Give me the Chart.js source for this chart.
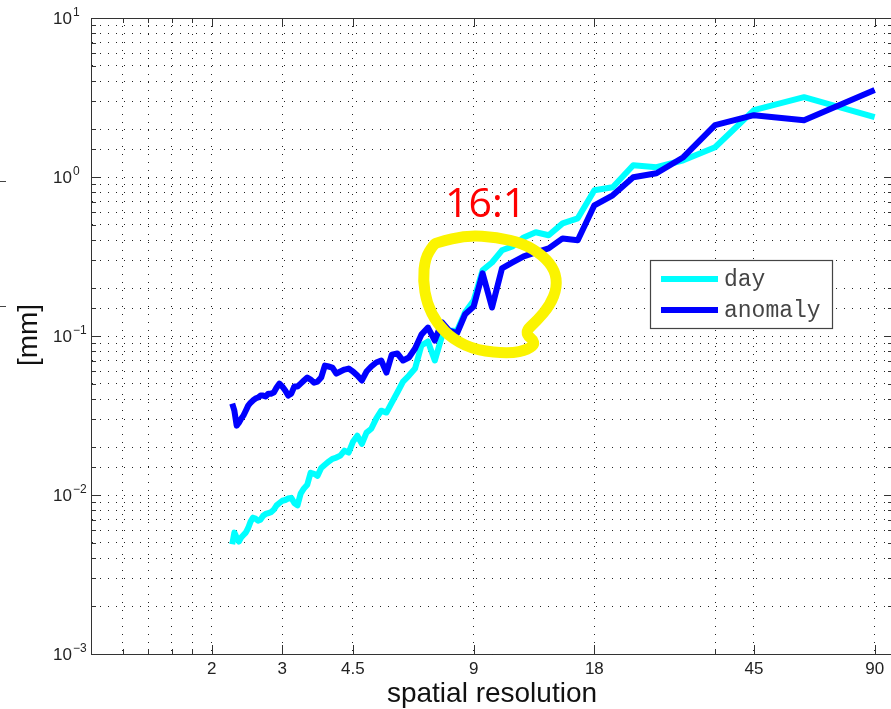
<!DOCTYPE html>
<html>
<head>
<meta charset="utf-8">
<script src="https://cdn.jsdelivr.net/npm/chart.js@4.4.1/dist/chart.umd.min.js"></script>
<style>
html, body { margin: 0; padding: 0; background: #fff; overflow: hidden; }
#divGrafico { width: 891px; height: 709px; overflow: hidden; }
canvas { display: block; }
</style>
</head>
<body>
<div id="divGrafico"><canvas id="grafico" width="895" height="709"></canvas></div>
<script>
// spatial resolution (180/k, k = 80..2)
const resolution = [
    2.25, 2.278, 2.308, 2.338, 2.368, 2.4, 2.432, 2.466, 2.5, 2.535,
    2.571, 2.609, 2.647, 2.687, 2.727, 2.769, 2.813, 2.857, 2.903, 2.951,
    3, 3.051, 3.103, 3.158, 3.214, 3.273, 3.333, 3.396, 3.462, 3.529,
    3.6, 3.673, 3.75, 3.83, 3.913, 4, 4.091, 4.186, 4.286, 4.39,
    4.5, 4.615, 4.737, 4.865, 5, 5.143, 5.294, 5.455, 5.625, 5.806,
    6, 6.207, 6.429, 6.667, 6.923, 7.2, 7.5, 7.826, 8.182, 8.571,
    9, 9.474, 10, 10.588, 11.25, 12, 12.857, 13.846, 15, 16.364,
    18, 20, 22.5, 25.714, 30, 36, 45, 60, 90
];
const day = [
    0.0049, 0.0058, 0.0054, 0.0051, 0.0054, 0.0056, 0.0058, 0.0062, 0.0068, 0.0072,
    0.0071, 0.0069, 0.0070, 0.0074, 0.0076, 0.0077, 0.0078, 0.0081, 0.0086, 0.0089,
    0.0092, 0.0093, 0.0095, 0.0096, 0.0089, 0.0086, 0.0102, 0.0110, 0.0116, 0.0138,
    0.0136, 0.0132, 0.0148, 0.0155, 0.0162, 0.0169, 0.0172, 0.0177, 0.0190, 0.0185,
    0.0216, 0.0236, 0.0210, 0.0247, 0.0261, 0.0302, 0.0339, 0.0330, 0.0381, 0.0441,
    0.0517, 0.0564, 0.0624, 0.0871, 0.0924, 0.0701, 0.0993, 0.108, 0.108, 0.141,
    0.167, 0.259, 0.290, 0.346, 0.366, 0.417, 0.449, 0.430, 0.511, 0.550,
    0.825, 0.862, 1.186, 1.152, 1.275, 1.539, 2.633, 3.179, 2.379
];
const anomaly = [
    0.0376, 0.0339, 0.0273, 0.0285, 0.0302, 0.0316, 0.0339, 0.0365, 0.0381, 0.0393,
    0.0404, 0.0410, 0.0422, 0.0422, 0.0416, 0.0434, 0.0434, 0.0441, 0.0474, 0.0502,
    0.0481, 0.0454, 0.0422, 0.0434, 0.0481, 0.0481, 0.0502, 0.0525, 0.0548, 0.0532,
    0.0509, 0.0517, 0.0548, 0.0652, 0.0643, 0.0633, 0.0580, 0.0598, 0.0615, 0.0624,
    0.0598, 0.0564, 0.0525, 0.0598, 0.0643, 0.0681, 0.0701, 0.0589, 0.0764, 0.0776,
    0.0701, 0.0732, 0.0834, 0.102, 0.113, 0.0937, 0.122, 0.108, 0.104, 0.137,
    0.153, 0.248, 0.151, 0.266, 0.290, 0.317, 0.336, 0.356, 0.411, 0.400,
    0.664, 0.767, 0.996, 1.056, 1.332, 2.118, 2.449, 2.278, 3.520
];
const seriesNames = ['day', 'anomaly'];
const seriesColors = ['#00ffff', '#0000ff'];

const xTickLabels = [2, 3, 4.5, 9, 18, 45, 90];
const xGridValues = [1.2, 1.39, 1.59, 1.79, 2, 3, 4.5, 9, 18, 36, 45, 90];
const yPowers = [-3, -2, -1, 0, 1];

// hand drawn circle + note, in data coordinates
const circleX = [7.29, 8.66, 10.29, 11.95, 13.40, 14.36, 14.53, 13.95, 12.95, 12.02,
                 12.88, 12.30, 11.09, 9.18, 7.99, 7.29, 6.88, 6.73, 6.81, 7.13];
const circleY = [0.388, 0.430, 0.417, 0.383, 0.321, 0.259, 0.202, 0.156, 0.125, 0.105,
                 0.0910, 0.0822, 0.0776, 0.0810, 0.0951, 0.120, 0.160, 0.224, 0.308, 0.372];
const noteText = '16:1';
const noteX = 7.64;
const noteY = 0.558;

function pontos(ys) {
    return resolution.map(function (x, i) { return { x: x, y: ys[i] }; });
}

function isPow10(v) {
    var l = Math.log10(v);
    return Math.abs(l - Math.round(l)) < 1e-6;
}

const extras = {
    id: 'extras',
    afterDatasetsDraw: function (chart) {
        var ctx = chart.ctx;
        var xs = chart.scales.x, ys = chart.scales.y;
        var a = chart.chartArea;
        ctx.save();

        // box top / right
        ctx.strokeStyle = '#333';
        ctx.lineWidth = 1;
        ctx.beginPath();
        ctx.moveTo(a.left, a.top + 0.5); ctx.lineTo(a.right, a.top + 0.5);
        ctx.moveTo(a.right - 0.5, a.top); ctx.lineTo(a.right - 0.5, a.bottom);
        ctx.stroke();

        // inner tick marks
        ctx.beginPath();
        ys.ticks.forEach(function (t) {
            var y = Math.round(ys.getPixelForValue(t.value)) + 0.5;
            var len = isPow10(t.value) ? 9 : 5;
            ctx.moveTo(a.left, y); ctx.lineTo(a.left + len, y);
            ctx.moveTo(a.right, y); ctx.lineTo(a.right - len, y);
        });
        xGridValues.forEach(function (v) {
            var x = Math.round(xs.getPixelForValue(v)) + 0.5;
            var len = xTickLabels.indexOf(v) >= 0 ? 9 : 5;
            ctx.moveTo(x, a.bottom); ctx.lineTo(x, a.bottom - len);
            ctx.moveTo(x, a.top); ctx.lineTo(x, a.top + len);
        });
        ctx.stroke();

        // y tick labels 10^n
        ctx.fillStyle = '#222';
        yPowers.forEach(function (p) {
            var y = ys.getPixelForValue(Math.pow(10, p));
            ctx.font = '17px "Liberation Sans", Arial, sans-serif';
            ctx.textAlign = 'right';
            ctx.textBaseline = 'alphabetic';
            ctx.fillText('10', 72, y + 6);
            ctx.font = '12px "Liberation Sans", Arial, sans-serif';
            ctx.textAlign = 'left';
            ctx.fillText(p < 0 ? '\u2212' + (-p) : String(p), 73, y - 2);
        });

        // axis titles
        ctx.fillStyle = '#111';
        ctx.font = '28px "Liberation Sans", Arial, sans-serif';
        ctx.textAlign = 'center';
        ctx.textBaseline = 'alphabetic';
        ctx.fillText('spatial resolution', (a.left + a.right) / 2, 702);
        ctx.save();
        ctx.translate(37, 335);
        ctx.rotate(-Math.PI / 2);
        ctx.fillText('[mm]', 0, 0);
        ctx.restore();

        // stray marks at left edge
        ctx.strokeStyle = '#444';
        ctx.beginPath();
        ctx.moveTo(0, 181.5); ctx.lineTo(6, 181.5);
        ctx.moveTo(0, 306.5); ctx.lineTo(6, 306.5);
        ctx.stroke();

        // legend
        var lx = 650, ly = 260, lw = 182, lh = 68;
        ctx.fillStyle = '#fff';
        ctx.fillRect(lx, ly, lw, lh);
        ctx.strokeStyle = '#444';
        ctx.lineWidth = 1.2;
        ctx.strokeRect(lx + 0.5, ly + 0.5, lw, lh);
        ctx.font = '23px "Liberation Mono", "Courier New", monospace';
        ctx.textAlign = 'left';
        ctx.textBaseline = 'middle';
        chart.data.datasets.forEach(function (ds, i) {
            var yy = ly + 19 + i * 31;
            ctx.strokeStyle = ds.borderColor;
            ctx.lineWidth = 6;
            ctx.beginPath();
            ctx.moveTo(lx + 11, yy); ctx.lineTo(lx + 68, yy);
            ctx.stroke();
            ctx.fillStyle = '#444';
            ctx.fillText(ds.label, lx + 74, yy + 1);
        });

        // yellow circle
        var pts = circleX.map(function (v, i) {
            return { x: xs.getPixelForValue(v), y: ys.getPixelForValue(circleY[i]) };
        });
        ctx.strokeStyle = '#fbf400';
        ctx.lineWidth = 11;
        ctx.lineJoin = 'round';
        ctx.lineCap = 'round';
        ctx.beginPath();
        var n = pts.length;
        var m0 = { x: (pts[n - 1].x + pts[0].x) / 2, y: (pts[n - 1].y + pts[0].y) / 2 };
        ctx.moveTo(m0.x, m0.y);
        for (var i = 0; i < n; i++) {
            var p = pts[i], q = pts[(i + 1) % n];
            ctx.quadraticCurveTo(p.x, p.y, (p.x + q.x) / 2, (p.y + q.y) / 2);
        }
        ctx.stroke();

        // note
        ctx.fillStyle = '#ff0000';
        ctx.font = '41px "Open Sans", "Noto Sans", sans-serif';
        ctx.textAlign = 'left';
        ctx.textBaseline = 'alphabetic';
        ctx.fillText(noteText, xs.getPixelForValue(noteX), ys.getPixelForValue(noteY));

        ctx.restore();
    }
};

function criarGrafico() {
    var ctx = document.getElementById('grafico').getContext('2d');
    new Chart(ctx, {
        type: 'line',
        data: {
            datasets: [
                { label: seriesNames[0], data: pontos(day), borderColor: seriesColors[0], order: 2 },
                { label: seriesNames[1], data: pontos(anomaly), borderColor: seriesColors[1], order: 1 }
            ]
        },
        options: {
            responsive: false,
            animation: false,
            layout: { padding: { left: 0, top: 18, right: 2, bottom: 0 } },
            elements: {
                line: { borderWidth: 6, tension: 0, borderJoinStyle: 'round', borderCapStyle: 'butt' },
                point: { radius: 0, hoverRadius: 0 }
            },
            plugins: { legend: { display: false }, tooltip: { enabled: false } },
            scales: {
                x: {
                    type: 'logarithmic',
                    min: 1,
                    max: 100,
                    afterBuildTicks: function (scale) {
                        scale.ticks = xGridValues.map(function (v) { return { value: v }; });
                    },
                    afterFit: function (scale) { scale.height = 55; },
                    grid: { color: '#222', lineWidth: 1, drawTicks: false },
                    border: { display: true, color: '#333', width: 1, dash: [1, 7] },
                    ticks: {
                        autoSkip: false,
                        maxRotation: 0,
                        padding: 5,
                        color: '#222',
                        font: { family: '"Liberation Sans", Arial, sans-serif', size: 17 },
                        callback: function (value) {
                            return xTickLabels.indexOf(value) >= 0 ? String(value) : '';
                        }
                    }
                },
                y: {
                    type: 'logarithmic',
                    min: 0.001,
                    max: 10,
                    afterFit: function (scale) { scale.width = 91; },
                    grid: { color: '#222', lineWidth: 1, drawTicks: false },
                    border: { display: true, color: '#333', width: 1, dash: [1, 7] },
                    ticks: { display: false, autoSkip: false }
                }
            }
        },
        plugins: [extras]
    });
}

criarGrafico();
</script>
</body>
</html>
